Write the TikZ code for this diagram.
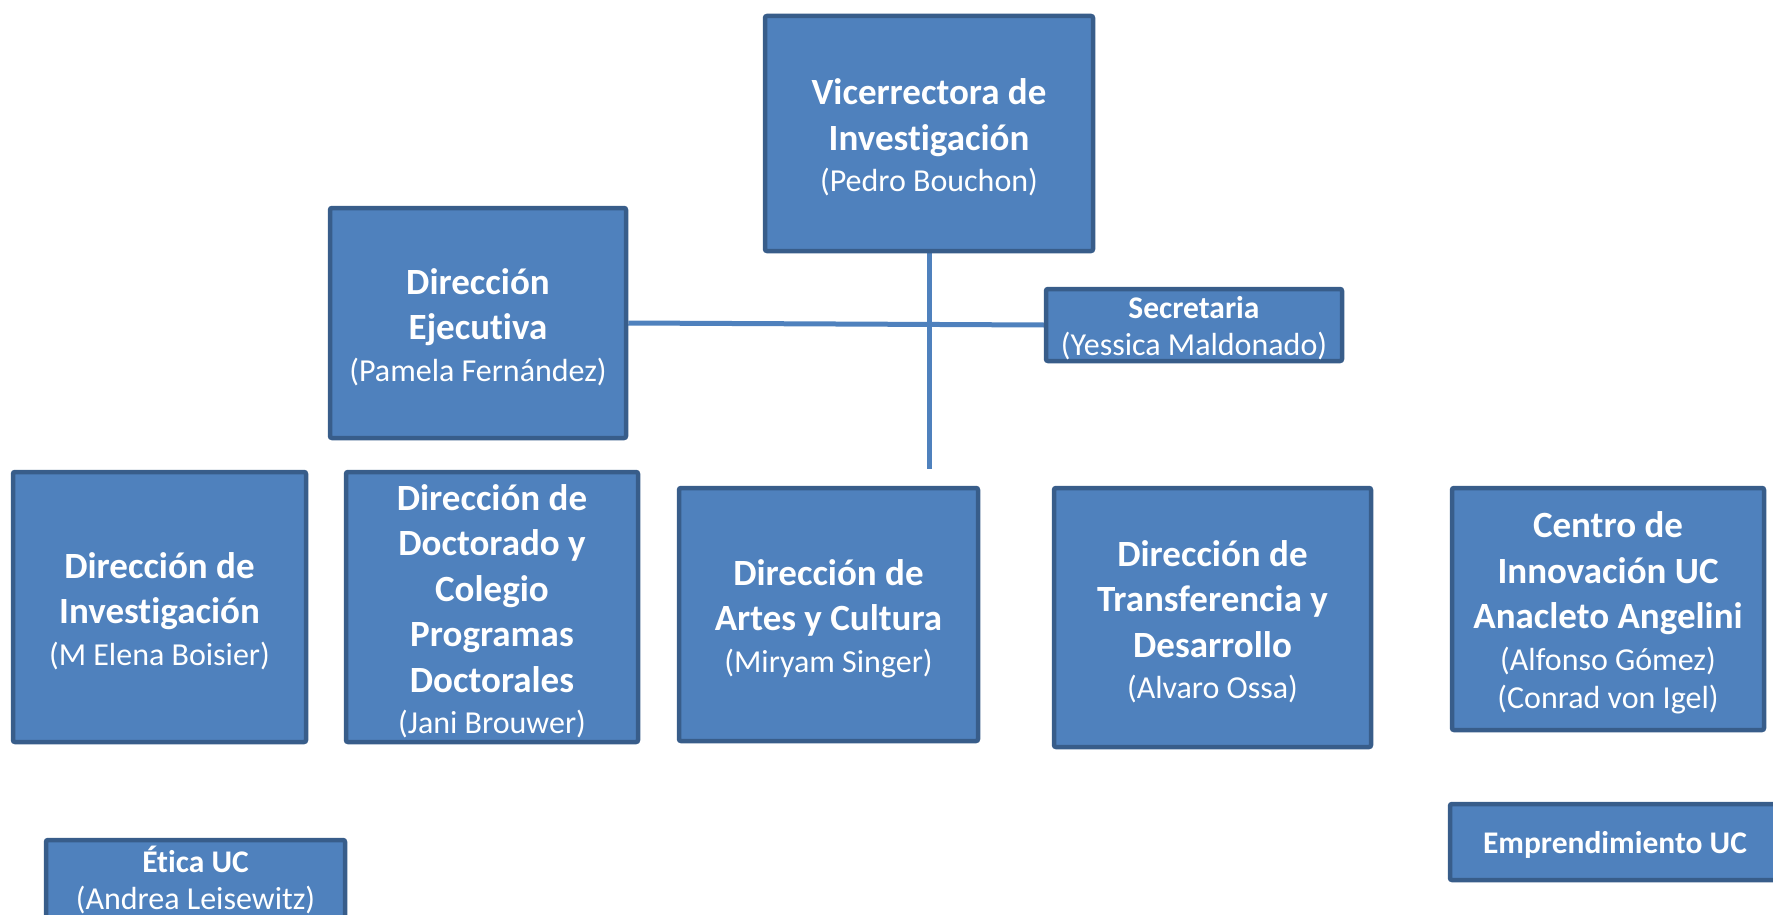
\documentclass[tikz,border=0pt]{standalone}
\usepackage{fontspec}
\setmainfont{Carlito}[Ligatures=NoCommon]
\usetikzlibrary{backgrounds}
\definecolor{boxblue}{HTML}{4F81BD}
\definecolor{boxedge}{HTML}{385D8A}
\newcommand{\who}[1]{{\fontsize{32}{40}\selectfont\mdseries #1}}

\begin{document}
\begin{tikzpicture}[x=1pt, y=-1pt,
  boxbase/.style={draw=boxedge, fill=boxblue, line width=4.5pt, rounded corners=2pt,
    text=white, align=flush center, inner sep=0pt, text width=280pt},
  unit/.style={boxbase, font=\fontsize{37}{45.5}\selectfont\bfseries,
    execute at begin node={\rule{0pt}{34pt}}},
  small/.style={boxbase, font=\fontsize{31.5}{37}\selectfont\bfseries,
    execute at begin node={\rule{0pt}{28pt}}},
  link/.style={draw=boxblue, line width=5pt}]
\useasboundingbox (0,0) rectangle (1773,915);

% Top
\node[unit, minimum width=328pt, minimum height=235pt] (vice) at (929,133.5) {Vicerrectora de\\Investigación\\[-4pt]\who{(Pedro Bouchon)}};
\node[unit, minimum width=296pt, minimum height=230pt] (ejec) at (478,323) {Dirección\\Ejecutiva\\[-4pt]\who{(Pamela Fernández)}};
\node[small, minimum width=296pt, minimum height=72pt] (secr) at (1194,325) {Secretaria\\\who{(Yessica Maldonado)}};
\coordinate (hub) at (929,469);

% Direcciones
\node[unit, minimum width=293pt, minimum height=270pt] (inv) at (159.5,607) {Dirección de\\Investigación\\[-4pt]\who{(M Elena Boisier)}};
\node[unit, minimum width=292pt, minimum height=270pt] (doct) at (492,607) {Dirección de\\Doctorado y\\Colegio\\Programas\\Doctorales\\[-4pt]\who{(Jani Brouwer)}};
\node[unit, minimum width=299pt, minimum height=253pt] (artes) at (828.5,614.5) {Dirección de\\Artes y Cultura\\[-4pt]\who{(Miryam Singer)}};
\node[unit, minimum width=317pt, minimum height=259pt] (transf) at (1212.5,617.5) {Dirección de\\Transferencia y\\Desarrollo\\[-4pt]\who{(Alvaro Ossa)}};
\node[unit, minimum width=312pt, minimum height=242pt] (centro) at (1608,609) {Centro de\\Innovación UC\\Anacleto Angelini\\[-4pt]\who{(Alfonso Gómez)}\\[-7pt]\who{(Conrad von Igel)}};

% Bottom
\node[small, minimum width=299pt, minimum height=78pt] (etica) at (195.5,879) {Ética UC\\\who{(Andrea Leisewitz)}};
\node[small, minimum width=330pt, minimum height=76pt] (empr) at (1615,842) {Emprendimiento UC};

% Lines
\begin{scope}[on background layer]
\draw[link] (vice.south) -- (hub);
\draw[link] (ejec.east) -- (secr.west);
\end{scope}
\end{tikzpicture}
\end{document}
